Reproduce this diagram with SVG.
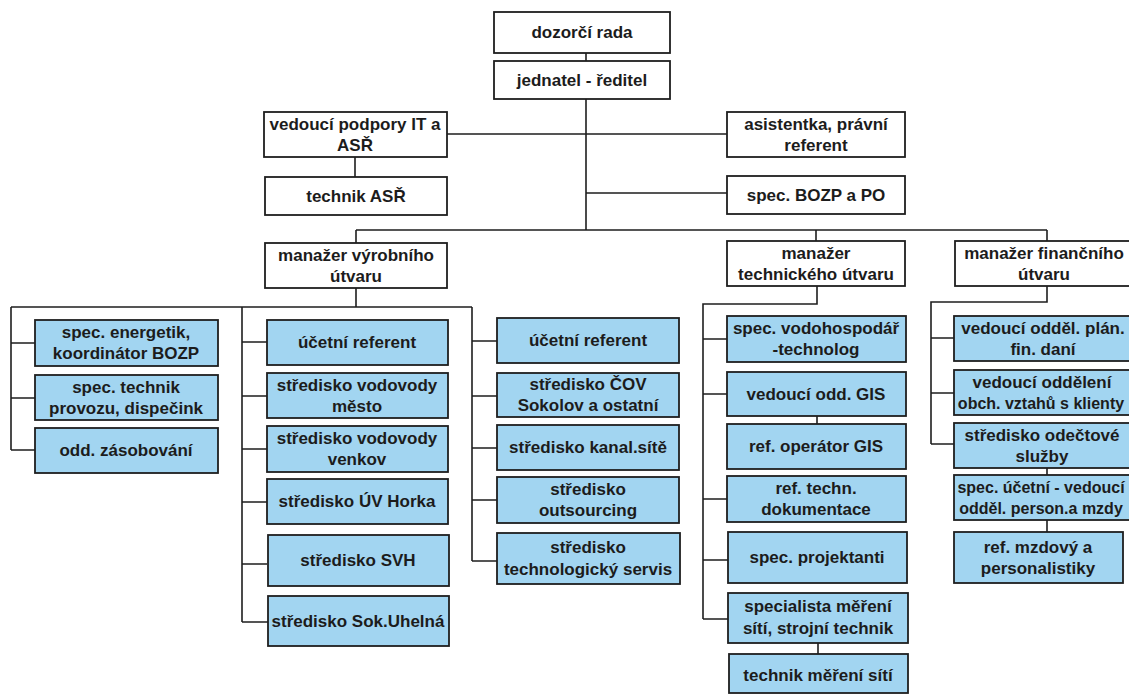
<svg xmlns="http://www.w3.org/2000/svg" width="1129" height="695" viewBox="0 0 1129 695">
<style>
.b{fill:#ffffff;stroke:#1e1e1e;stroke-width:1.8}
.u{fill:#a2d5f1;stroke:#1e1e1e;stroke-width:1.8}
.c{fill:none;stroke:#1e1e1e;stroke-width:1.6}
text{font-family:"Liberation Sans",Arial,sans-serif;font-weight:bold;font-size:17px;fill:#1c1c1c;text-anchor:middle}
text.s{font-size:16px}
</style>
<rect width="1129" height="695" fill="#ffffff"/>
<g id="connectors">
<path class="c" d="M586,53V61M586,99V230M447,134H727M355,157V177M586,193H727M356,230H1047M356,230V243M816,230V241M1047,230V241"/>
<path class="c" d="M356,288V307M11,307H472M11,307V450M11,343H35M11,398H35M11,450H35"/>
<path class="c" d="M242,307V622M242,342H267M242,396H267M242,449H267M242,502H267M242,564H267M242,622H268"/>
<path class="c" d="M472,307V561M472,341H497M472,396H497M472,448H497M472,500H497M472,561H497"/>
<path class="c" d="M817,286V304H703V619M703,339H727M703,394H727M703,499H727M703,560H728M703,619H728M817,416V424M818,643V654"/>
<path class="c" d="M1047,286V302H931V444M931,338H954M931,393H954M931,444H954M1047,468V475M1047,520V532"/>
</g>
<g id="n-dozorci"><rect class="b" x="494" y="12" width="176" height="41"/><text x="582" y="38">dozorčí rada</text></g>
<g id="n-jednatel"><rect class="b" x="494" y="61" width="176" height="38"/><text x="582" y="86">jednatel - ředitel</text></g>
<g id="n-vedouci-it"><rect class="b" x="264" y="112" width="183" height="45"/><text x="355" y="130">vedoucí podpory IT a</text><text x="355" y="151">ASŘ</text></g>
<g id="n-asistentka"><rect class="b" x="727" y="112" width="178" height="45"/><text x="816" y="130">asistentka, právní</text><text x="816" y="151">referent</text></g>
<g id="n-technik-asr"><rect class="b" x="265" y="177" width="182" height="38"/><text x="356" y="202">technik ASŘ</text></g>
<g id="n-bozp"><rect class="b" x="727" y="176" width="178" height="38"/><text x="816" y="201">spec. BOZP a PO</text></g>
<g id="n-man-vyrob"><rect class="b" x="265" y="243" width="182" height="45"/><text x="356" y="261">manažer výrobního</text><text x="356" y="282">útvaru</text></g>
<g id="n-man-tech"><rect class="b" x="727" y="241" width="178" height="45"/><text x="816" y="259">manažer</text><text x="816" y="280">technického útvaru</text></g>
<g id="n-man-fin"><rect class="b" x="955" y="241" width="180" height="45"/><text x="1044" y="259">manažer finančního</text><text x="1044" y="280">útvaru</text></g>
<g id="n-a1"><rect class="u" x="35" y="320" width="183" height="46"/><text x="126" y="338">spec. energetik,</text><text x="126" y="359">koordinátor BOZP</text></g>
<g id="n-a2"><rect class="u" x="35" y="375" width="183" height="45"/><text x="126" y="393">spec. technik</text><text x="126" y="414">provozu, dispečink</text></g>
<g id="n-a3"><rect class="u" x="35" y="428" width="183" height="45"/><text x="126" y="456">odd. zásobování</text></g>
<g id="n-b1"><rect class="u" x="267" y="320" width="181" height="45"/><text x="357" y="348">účetní referent</text></g>
<g id="n-b2"><rect class="u" x="267" y="373" width="181" height="45"/><text x="357" y="391">středisko vodovody</text><text x="357" y="412">město</text></g>
<g id="n-b3"><rect class="u" x="267" y="426" width="181" height="46"/><text x="357" y="444">středisko vodovody</text><text x="357" y="465">venkov</text></g>
<g id="n-b4"><rect class="u" x="267" y="479" width="181" height="45"/><text x="357" y="507">středisko ÚV Horka</text></g>
<g id="n-b5"><rect class="u" x="268" y="535" width="181" height="51"/><text x="358" y="566">středisko SVH</text></g>
<g id="n-b6"><rect class="u" x="268" y="596" width="181" height="50"/><text x="358" y="627">středisko Sok.Uhelná</text></g>
<g id="n-c1"><rect class="u" x="497" y="318" width="182" height="45"/><text x="588" y="346">účetní referent</text></g>
<g id="n-c2"><rect class="u" x="497" y="373" width="182" height="44"/><text x="588" y="390">středisko ČOV</text><text x="588" y="411">Sokolov a ostatní</text></g>
<g id="n-c3"><rect class="u" x="497" y="425" width="182" height="45"/><text x="588" y="453">středisko kanal.sítě</text></g>
<g id="n-c4"><rect class="u" x="497" y="477" width="182" height="46"/><text x="588" y="495">středisko</text><text x="588" y="516">outsourcing</text></g>
<g id="n-c5"><rect class="u" x="497" y="533" width="183" height="51"/><text x="588" y="553">středisko</text><text x="588" y="575">technologický servis</text></g>
<g id="n-t1"><rect class="u" x="727" y="316" width="179" height="46"/><text x="816" y="334">spec. vodohospodář</text><text x="816" y="355">-technolog</text></g>
<g id="n-t2"><rect class="u" x="727" y="372" width="179" height="44"/><text x="816" y="400">vedoucí odd. GIS</text></g>
<g id="n-t3"><rect class="u" x="727" y="424" width="179" height="45"/><text x="816" y="452">ref. operátor GIS</text></g>
<g id="n-t4"><rect class="u" x="727" y="476" width="179" height="46"/><text x="816" y="494">ref. techn.</text><text x="816" y="515">dokumentace</text></g>
<g id="n-t5"><rect class="u" x="728" y="532" width="179" height="51"/><text x="817" y="563">spec. projektanti</text></g>
<g id="n-t6"><rect class="u" x="728" y="593" width="180" height="50"/><text x="818" y="612">specialista měření</text><text x="818" y="634">sítí, strojní technik</text></g>
<g id="n-t7"><rect class="u" x="729" y="654" width="179" height="39"/><text x="818" y="681">technik měření sítí</text></g>
<g id="n-f1"><rect class="u" x="954" y="316" width="180" height="45"/><text x="1043" y="334">vedoucí odděl. plán.</text><text x="1043" y="355">fin. daní</text></g>
<g id="n-f2"><rect class="u" x="954" y="370" width="180" height="45"/><text x="1042" y="388">vedoucí oddělení</text><text class="s" x="1041" y="409">obch. vztahů s klienty</text></g>
<g id="n-f3"><rect class="u" x="954" y="423" width="180" height="45"/><text x="1042" y="441">středisko odečtové</text><text x="1042" y="462">služby</text></g>
<g id="n-f4"><rect class="u" x="954" y="475" width="180" height="45"/><text class="s" x="1041" y="493">spec. účetní - vedoucí</text><text class="s" x="1041" y="514">odděl. person.a mzdy</text></g>
<g id="n-f5"><rect class="u" x="954" y="532" width="169" height="51"/><text x="1038" y="553">ref. mzdový a</text><text x="1038" y="574">personalistiky</text></g>
</svg>
